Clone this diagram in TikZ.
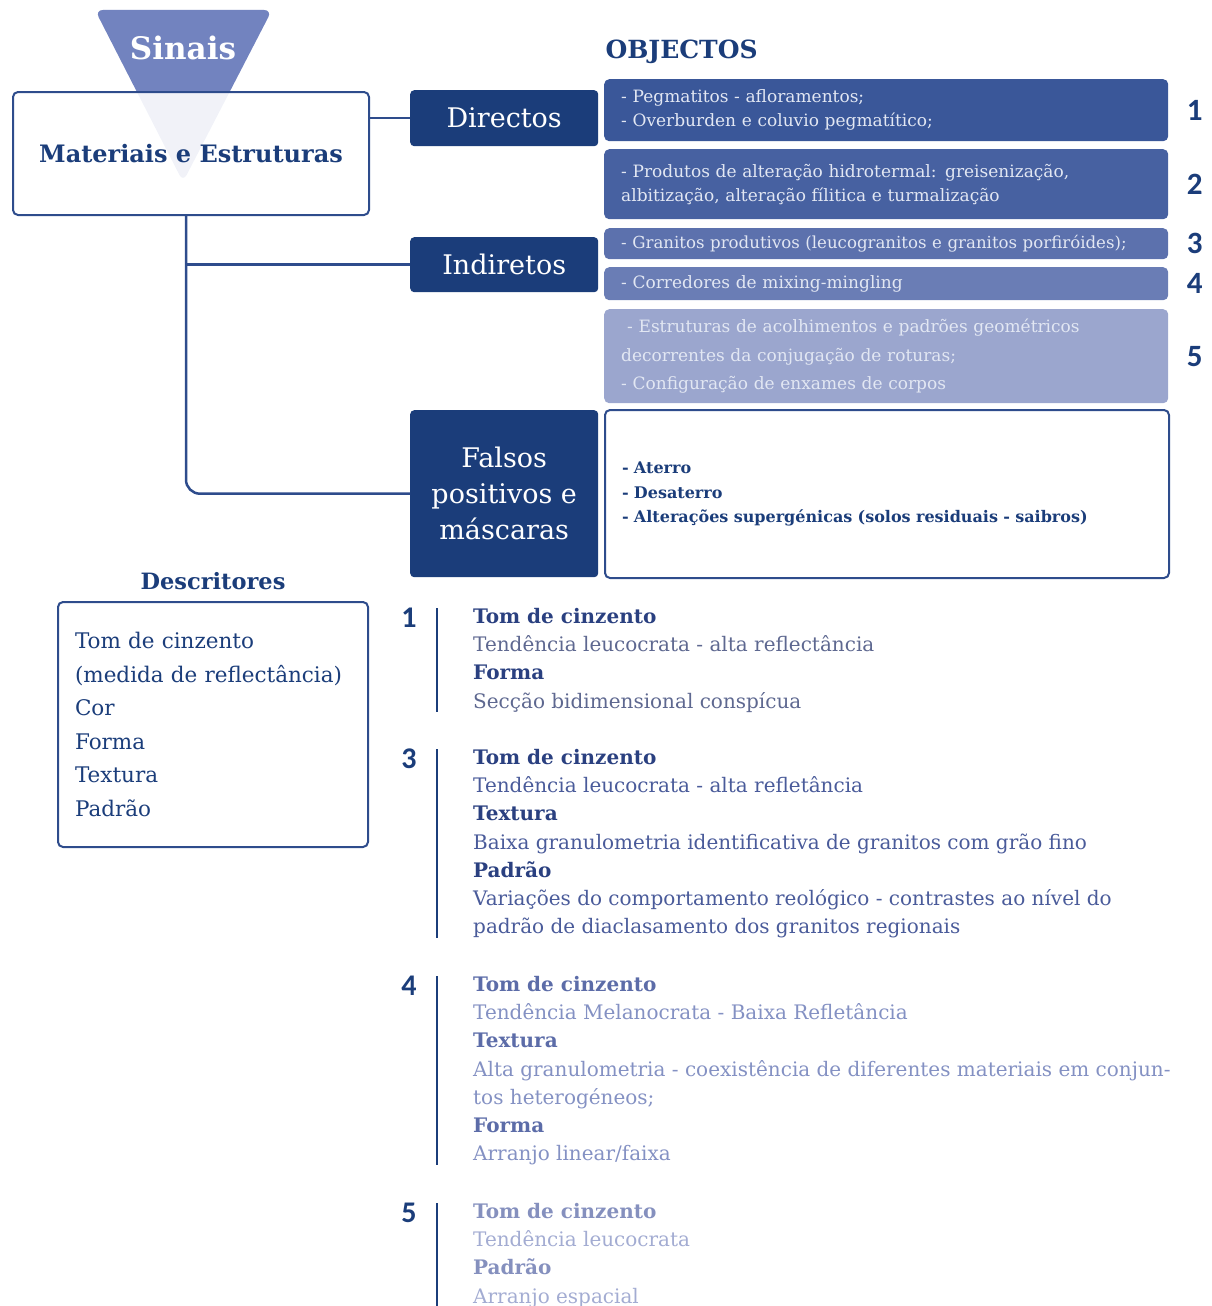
\documentclass[tikz,border=0pt]{standalone}
\usepackage{fontspec}
\setmainfont{DejaVu Serif}
\newfontfamily\numfont{Carlito}
\usepackage{xcolor}
\usetikzlibrary{positioning}

\definecolor{navy}{HTML}{1B3D7A}
\definecolor{linecol}{HTML}{2E4C8C}
\definecolor{funnelblue}{HTML}{7283BF}
\definecolor{obA}{HTML}{3A5799}
\definecolor{obB}{HTML}{4761A1}
\definecolor{obC}{HTML}{5C71AD}
\definecolor{obD}{HTML}{6A7DB5}
\definecolor{obE}{HTML}{9BA6CE}
\definecolor{obtext}{HTML}{E2E7F3}
\definecolor{headA}{HTML}{2A4080}
\definecolor{bodyA}{HTML}{5E6890}
\definecolor{bodyC}{HTML}{4A5B9A}
\definecolor{headD}{HTML}{5C6CA8}
\definecolor{bodyD}{HTML}{8491C3}
\definecolor{headE}{HTML}{8590BE}
\definecolor{bodyE}{HTML}{A3ACD2}

\begin{document}
\begin{tikzpicture}[x=1pt, y=-1pt,
  topbox/.style={draw=linecol, line width=2pt, rounded corners=5pt,
    minimum width=356pt, minimum height=123pt, anchor=north west,
    font=\fontsize{24}{28}\selectfont\bfseries, text=navy},
  catbox/.style={fill=navy, rounded corners=4pt, minimum width=188pt,
    anchor=north west, align=center, text=white,
    font=\fontsize{27}{36}\selectfont},
  objbox/.style={rounded corners=5pt, minimum width=564pt, anchor=north west,
    text width=530pt, inner xsep=17pt, inner ysep=0pt, align=left,
    text=obtext, font=\fontsize{17}{24}\selectfont},
  objnum/.style={font=\numfont\bfseries\fontsize{31}{32}\selectfont, text=navy},
  conn/.style={draw=linecol, line width=2.5pt},
  sect/.style={anchor=north west, inner sep=0pt, align=left,
    font=\fontsize{20}{28.2}\selectfont},
  secnum/.style={anchor=north, inner sep=0pt,
    font=\numfont\bfseries\fontsize{30}{32}\selectfont, text=navy},
  bar/.style={draw=navy, line width=2.5pt},
  lbl/.style={font=\fontsize{25}{28}\selectfont\bfseries, text=navy}
]
\useasboundingbox (0,0) rectangle (1212,1306);

% funnel behind the top box
\fill[funnelblue, opacity=0.1, rounded corners=8pt] (95,10) -- (272,10) -- (183,182) -- cycle;
\begin{scope}
  \clip (0,0) rectangle (400,91);
  \fill[funnelblue, rounded corners=8pt] (95,10) -- (272,10) -- (183,182) -- cycle;
\end{scope}
\node[font=\fontsize{31}{33}\selectfont\bfseries, text=white] (sinais) at (183,48) {Sinais};

\node[topbox] (mat) at (12,91) {Materiais e Estruturas};

\node[catbox, minimum height=56pt] (dir) at (410,90) {Directos};
\node[catbox, minimum height=55pt] (ind) at (410,237) {Indiretos};
\node[catbox, minimum height=167pt] (fal) at (410,410) {Falsos\\positivos e\\máscaras};

\coordinate (trunk) at ([xshift=-5pt]mat.south);
\draw[conn] (dir.west) -- (dir.west -| mat.east);
\draw[conn] (ind.west) -- (trunk |- ind.west);
\draw[conn, rounded corners=14pt] (trunk) |- (fal.west);

% objectos
\node[lbl, anchor=west] (objlbl) at (602,52) {OBJECTOS};

\node[objbox, fill=obA, minimum height=62pt] (ob1) at (604,79)
  {- Pegmatitos - afloramentos;\\- Overburden e coluvio pegmatítico;};
\node[objbox, fill=obB, minimum height=70pt] (ob2) at (604,149)
  {- Produtos de alteração hidrotermal: greisenização,\\albitização, alteração fílitica e turmalização};
\node[objbox, fill=obC, minimum height=31pt, font=\fontsize{16.6}{24}\selectfont] (ob3) at (604,228)
  {- Granitos produtivos (leucogranitos e granitos porfiróides);};
\node[objbox, fill=obD, minimum height=33pt] (ob4) at (604,267)
  {- Corredores de mixing-mingling};
\node[objbox, fill=obE, minimum height=94pt, font=\fontsize{17}{28.5}\selectfont] (ob5) at (604,309)
  {\hspace{6pt}- Estruturas de acolhimentos e padrões geométricos\\decorrentes da conjugação de roturas;\\- Configuração de enxames de corpos};
\node[objbox, draw=linecol, line width=2pt, fill=white, text=navy, minimum height=168pt,
  font=\fontsize{16}{24.5}\selectfont\bfseries] (ob6) at (604,409)
  {- Aterro\\- Desaterro\\- Alterações supergénicas (solos residuais - saibros)};

\node[objnum, right=15pt of ob1] (n1) {1};
\node[objnum, right=15pt of ob2] (n2) {2};
\node[objnum, right=15pt of ob3] (n3) {3};
\node[objnum, right=15pt of ob4] (n4) {4};
\node[objnum, right=15pt of ob5] (n5) {5};

% descritores
\node[draw=linecol, line width=2pt, rounded corners=5pt, anchor=north west,
  minimum width=310pt, minimum height=245pt, text width=276pt, inner xsep=17pt,
  align=left, text=navy, font=\fontsize{21.5}{33.5}\selectfont] (desc) at (57,601)
  {Tom de cinzento\\(medida de reflectância)\\Cor\\Forma\\Textura\\Padrão};
\node[lbl, font=\fontsize{22.5}{26}\selectfont\bfseries, above=8pt of desc] (desclbl) {Descritores};

% sections
\node[sect] (s1) at (473,608)
  {\textcolor{headA}{\bfseries Tom de cinzento}\\
   \textcolor{bodyA}{Tendência leucocrata - alta reflectância}\\
   \textcolor{headA}{\bfseries Forma}\\
   \textcolor{bodyA}{Secção bidimensional conspícua}};
\node[sect] (s3) at (473,749)
  {\textcolor{headA}{\bfseries Tom de cinzento}\\
   \textcolor{bodyC}{Tendência leucocrata - alta refletância}\\
   \textcolor{headA}{\bfseries Textura}\\
   \textcolor{bodyC}{Baixa granulometria identificativa de granitos com grão fino}\\
   \textcolor{headA}{\bfseries Padrão}\\
   \textcolor{bodyC}{Variações do comportamento reológico - contrastes ao nível do}\\
   \textcolor{bodyC}{padrão de diaclasamento dos granitos regionais}};
\node[sect] (s4) at (473,976)
  {\textcolor{headD}{\bfseries Tom de cinzento}\\
   \textcolor{bodyD}{Tendência Melanocrata - Baixa Refletância}\\
   \textcolor{headD}{\bfseries Textura}\\
   \textcolor{bodyD}{Alta granulometria - coexistência de diferentes materiais em conjun-}\\
   \textcolor{bodyD}{tos heterogéneos;}\\
   \textcolor{headD}{\bfseries Forma}\\
   \textcolor{bodyD}{Arranjo linear/faixa}};
\node[sect] (s5) at (473,1203)
  {\textcolor{headE}{\bfseries Tom de cinzento}\\
   \textcolor{bodyE}{Tendência leucocrata}\\
   \textcolor{headE}{\bfseries Padrão}\\
   \textcolor{bodyE}{Arranjo espacial}};

\draw[bar] ([xshift=-36pt]s1.north west) -- ([xshift=-36pt]s1.south west);
\draw[bar] ([xshift=-36pt]s3.north west) -- ([xshift=-36pt]s3.south west);
\draw[bar] ([xshift=-36pt]s4.north west) -- ([xshift=-36pt]s4.south west);
\draw[bar] ([xshift=-36pt]s5.north west) -- ([xshift=-36pt]s5.south west);

\node[secnum] (m1) at ([xshift=-64pt]s1.north west) {1};
\node[secnum] (m3) at ([xshift=-64pt]s3.north west) {3};
\node[secnum] (m4) at ([xshift=-64pt]s4.north west) {4};
\node[secnum] (m5) at ([xshift=-64pt]s5.north west) {5};
\end{tikzpicture}
\end{document}
